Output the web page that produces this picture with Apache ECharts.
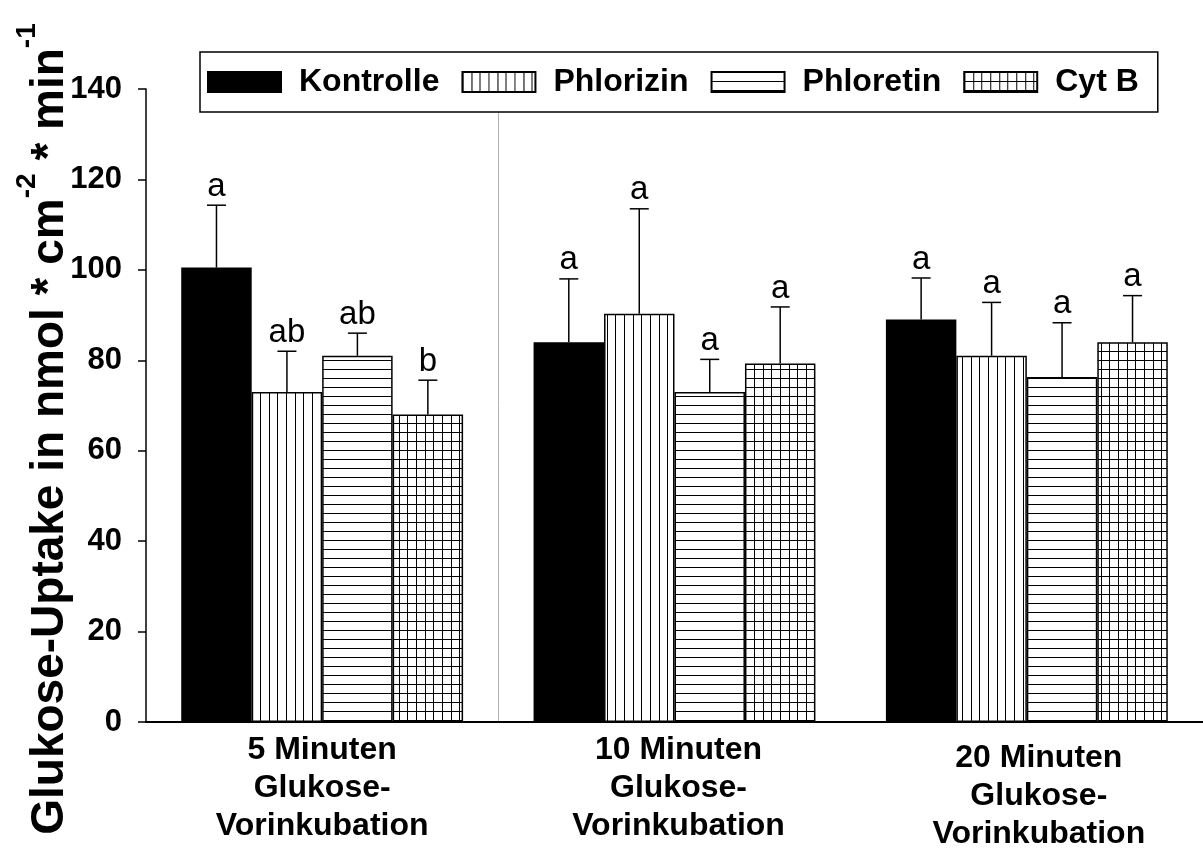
<!DOCTYPE html>
<html>
<head>
<meta charset="utf-8">
<script src="https://cdn.jsdelivr.net/npm/echarts@6/dist/echarts.min.js"></script>
<style>
  html, body { margin: 0; padding: 0; background: #fff; }
  #chart { width: 1203px; height: 853px; }
</style>
</head>
<body>
<div id="chart"></div>
<script>
// ---- data ----
const categories = [
  '5 Minuten\nGlukose-\nVorinkubation',
  '10 Minuten\nGlukose-\nVorinkubation',
  '20 Minuten\nGlukose-\nVorinkubation'
];
const seriesNames = ['Kontrolle', 'Phlorizin', 'Phloretin', 'Cyt B'];

const kontrolle = [100.5, 84.0, 89.0];
const phlorizin = [73.0, 90.3, 81.0];
const phloretin = [81.0, 73.0, 76.3];
const cytB      = [68.0, 79.3, 84.0];

const kontrolleErr = [13.8, 14.0, 9.2];
const phlorizinErr = [9.0, 23.2, 11.8];
const phloretinErr = [5.0, 7.2, 12.0];
const cytBErr      = [7.6, 12.5, 10.3];

const kontrolleSig = ['a', 'a', 'a'];
const phlorizinSig = ['ab', 'a', 'a'];
const phloretinSig = ['ab', 'a', 'a'];
const cytBSig      = ['b', 'a', 'a'];

const yMin = 0, yMax = 140, yInterval = 20;

// ---- build ----
const FONT = "'Liberation Sans', Arial, Helvetica, sans-serif";
const means = [kontrolle, phlorizin, phloretin, cytB];
const errs = [kontrolleErr, phlorizinErr, phloretinErr, cytBErr];
const sigs = [kontrolleSig, phlorizinSig, phloretinSig, cytBSig];

function makePattern(kind) {
  const c = document.createElement('canvas');
  const vx = [0, 9, 17];
  if (kind === 'v') { c.width = 26; c.height = 4; }
  else if (kind === 'h') { c.width = 4; c.height = 9; }
  else { c.width = 26; c.height = 9; }
  const g = c.getContext('2d');
  g.fillStyle = '#fff';
  g.fillRect(0, 0, c.width, c.height);
  g.fillStyle = '#000';
  if (kind === 'v' || kind === 'g') vx.forEach(x => g.fillRect(x, 0, 1, c.height));
  if (kind === 'h' || kind === 'g') g.fillRect(0, 0, c.width, 1);
  return { image: c, repeat: 'repeat' };
}
const fills = ['#000', makePattern('v'), makePattern('h'), makePattern('g')];

const BAR_FRAC = 0.2;
const barSeries = seriesNames.map((name, s) => ({
  name: name,
  type: 'bar',
  barWidth: (BAR_FRAC * 100) + '%',
  barGap: '0%',
  data: means[s],
  itemStyle: { color: fills[s], borderColor: '#000', borderWidth: 1.5 },
  z: 2
}));

const errData = [];
const errLetters = [];
seriesNames.forEach((n, s) => {
  categories.forEach((c, i) => {
    errData.push([i, s, means[s][i], errs[s][i]]);
    errLetters.push(sigs[s][i]);
  });
});

const errSeries = {
  type: 'custom',
  name: 'err',
  z: 5,
  data: errData,
  encode: { x: 0, y: 2 },
  renderItem: function (params, api) {
    const c = api.value(0), s = api.value(1), m = api.value(2), e = api.value(3);
    const catW = api.size([1, 0])[0];
    const off = (s - 1.5) * catW * BAR_FRAC;
    const p0 = api.coord([c, m]);
    const p1 = api.coord([c, m + e]);
    const x = p0[0] + off;
    const capHalf = 9.5;
    return {
      type: 'group',
      children: [
        { type: 'line', shape: { x1: x, y1: p0[1], x2: x, y2: p1[1] },
          style: { stroke: '#000', lineWidth: 1.5 } },
        { type: 'line', shape: { x1: x - capHalf, y1: p1[1], x2: x + capHalf, y2: p1[1] },
          style: { stroke: '#000', lineWidth: 1.5 } },
        { type: 'text', x: x, y: p1[1] - 2,
          style: { text: errLetters[params.dataIndex], fill: '#000',
                   font: '33px ' + FONT, align: 'center', verticalAlign: 'bottom' } }
      ]
    };
  }
};

const xData = categories.map((c, i) => {
  if (i === 1) return { value: c, textStyle: { padding: [0, 0, 0, 8] } };
  if (i === 2) return { value: c, textStyle: { padding: [8, 0, 0, 24] } };
  return c;
});

const chart = echarts.init(document.getElementById('chart'), null, { renderer: 'canvas' });
chart.setOption({
  animation: false,
  backgroundColor: '#fff',
  textStyle: { fontFamily: FONT },
  grid: { left: 146, top: 89, width: 1062, height: 637 },
  legend: {
    data: seriesNames,
    left: 200,
    top: 52,
    padding: [14, 19, 14, 7],
    itemWidth: 73,
    itemHeight: 20,
    itemGap: 22,
    borderColor: '#000',
    borderWidth: 1.5,
    backgroundColor: '#fff',
    icon: 'rect',
    textStyle: { fontSize: 32, fontWeight: 'bold', color: '#000', fontFamily: FONT, padding: [0, 0, 0, 13] }
  },
  xAxis: {
    type: 'category',
    data: xData,
    axisLine: { lineStyle: { color: '#000', width: 2 } },
    axisTick: { show: false },
    axisLabel: { fontSize: 32, fontWeight: 'bold', color: '#000', lineHeight: 38, margin: 9, fontFamily: FONT, interval: 0 },
    splitLine: { show: true, interval: 0,
                 lineStyle: { color: ['rgba(0,0,0,0)', '#b0b0b0', 'rgba(0,0,0,0)', 'rgba(0,0,0,0)'], width: 1 } }
  },
  yAxis: {
    type: 'value',
    min: yMin, max: yMax, interval: yInterval,
    axisLine: { show: true, lineStyle: { color: '#000', width: 1.5 } },
    axisTick: { show: true, length: 8, lineStyle: { color: '#000', width: 1.5 } },
    axisLabel: { fontSize: 31, fontWeight: 'bold', color: '#000', margin: 24, fontFamily: FONT },
    splitLine: { show: false }
  },
  graphic: [{
    type: 'text',
    x: 50, y: 429,
    rotation: Math.PI / 2,
    style: {
      text: '{m|Glukose-Uptake in nmol * cm}{s|-2}{m| * min}{s|-1}',
      align: 'center',
      verticalAlign: 'middle',
      fill: '#000',
      rich: {
        m: { fontSize: 46, fontWeight: 'bold', fontFamily: FONT, lineHeight: 74, fill: '#000' },
        s: { fontSize: 28, fontWeight: 'bold', fontFamily: FONT, lineHeight: 28, verticalAlign: 'top', fill: '#000' }
      }
    }
  }],
  series: barSeries.concat([errSeries])
});
</script>
</body>
</html>
